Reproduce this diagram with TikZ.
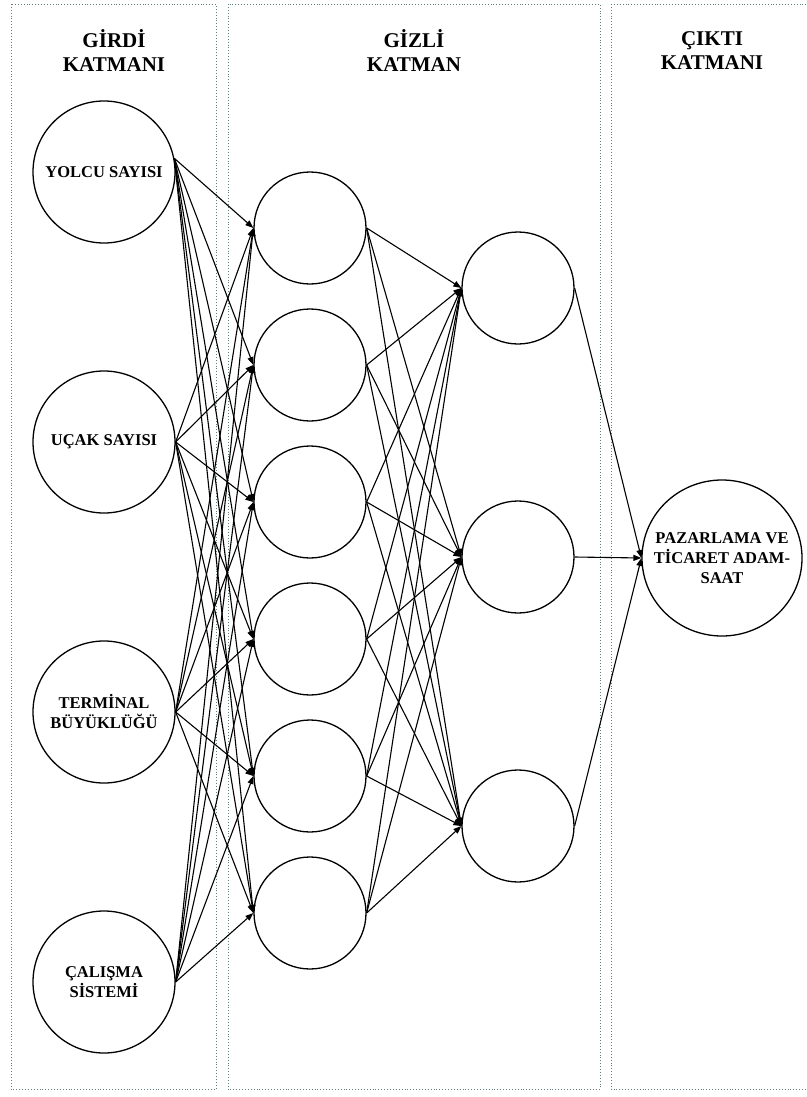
\documentclass[tikz,border=0pt]{standalone}
\usepackage{fontspec}
\setmainfont{Liberation Serif}
\usepackage{tikz}
\usetikzlibrary{arrows.meta,positioning,shapes.geometric}
\definecolor{panelGray}{HTML}{5F7F7F}

\begin{document}
\begin{tikzpicture}[
    x=1pt,y=-1pt,
    >={Triangle[length=8pt,width=6pt]},
    every node/.style={font=\bfseries},
    panel/.style={draw=panelGray,dotted,line width=0.9pt},
    head/.style={align=center,font=\bfseries\fontsize{21}{24}\selectfont},
    innode/.style={circle,draw,line width=1.3pt,inner sep=0pt,minimum size=142pt,
                   align=center,font=\bfseries\fontsize{16.5}{20}\selectfont},
    hid/.style={circle,draw,line width=1.3pt,inner sep=0pt,minimum size=112pt},
    outnode/.style={ellipse,draw,line width=1.3pt,inner sep=0pt,minimum width=160pt,minimum height=156pt},
    lab/.style={align=center,font=\bfseries\fontsize{16.5}{20}\selectfont},
    arr/.style={->,line width=1.1pt}
  ]
  \useasboundingbox (0,0) rectangle (806,1097);
  %% Dotted layer panels
  \draw[panel] (11,4) rectangle (216,1089);
  \draw[panel] (228,4) rectangle (600,1089);
  \draw[panel] (611,4) rectangle (830,1089);
  \node[head] (hin)  at (114,51) {GİRDİ\\KATMANI};
  \node[head] (hhid) at (414,51) {GİZLİ\\KATMAN};
  \node[head] (hout) at (712,51) {ÇIKTI\\KATMANI};
  %% Input layer
  \node[innode] (yolcu)    at (104,172) {YOLCU SAYISI};
  \node[innode] (ucak)     at (104,442) {UÇAK SAYISI};
  \node[innode] (terminal) at (104,712) {TERMİNAL\\BÜYÜKLÜĞÜ};
  \node[innode] (calisma)  at (104,982) {ÇALIŞMA\\SİSTEMİ};
  %% Hidden layers
  \foreach \i/\y in {1/228,2/365,3/502,4/639,5/776,6/913}
    \node[hid] (h\i) at (310,\y) {};
  \foreach \i/\y in {1/288,2/557,3/826}
    \node[hid] (g\i) at (518,\y) {};
  %% Output layer
  \node[outnode] (out) at (722,558) {};
  \node[lab] (outlab) at (out.center) {PAZARLAMA VE\\TİCARET ADAM-\\SAAT};
  %% Connections
  \foreach \j in {1,...,6}
    \draw[arr] (yolcu.11) -- (h\j.west);
  \foreach \a in {ucak,terminal,calisma}
    \foreach \j in {1,...,6}
      \draw[arr] (\a.east) -- (h\j.west);
  \foreach \i in {1,...,6}
    \foreach \j in {1,2,3}
      \draw[arr] (h\i.east) -- (g\j.west);
  \foreach \j in {1,2,3}
    \draw[arr] (g\j.east) -- (out.west);
\end{tikzpicture}
\end{document}
